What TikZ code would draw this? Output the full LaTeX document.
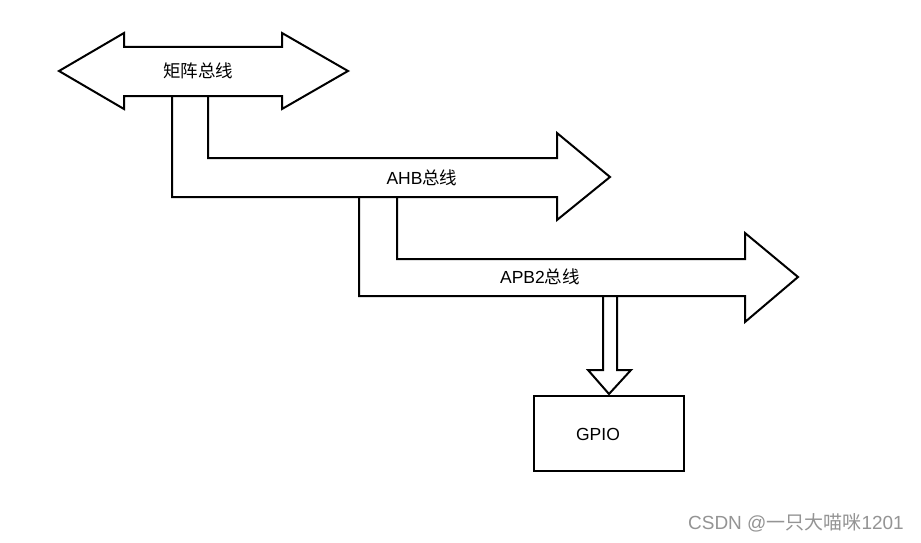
\documentclass[tikz,border=0pt]{standalone}
\usepackage{fontspec}
\setmainfont{Liberation Sans}
\newfontfamily\cjk{Noto Sans CJK SC}
\begin{document}
\begin{tikzpicture}[x=1pt,y=-1pt,
  bus/.style={draw=black,line width=2pt,line join=miter},
  lbl/.style={font=\fontsize{17.5}{19}\selectfont,inner sep=0pt,anchor=center},
  wm/.style={font=\fontsize{19}{21}\selectfont,text=black!42,inner sep=0pt,anchor=east}]
\useasboundingbox[fill=white] (0,0) rectangle (921,543);
% matrix bus (double arrow)
\draw[bus] (59,71) -- (124,33) -- (124,47) -- (282,47) -- (282,33) -- (348,71)
  -- (282,109) -- (282,96) -- (124,96) -- (124,109) -- cycle;
% AHB bus
\draw[bus] (208,96) -- (208,158) -- (557,158) -- (557,133) -- (610,177)
  -- (557,220) -- (557,197) -- (172,197) -- (172,96);
% APB2 bus
\draw[bus] (397,197) -- (397,259) -- (745,259) -- (745,233) -- (798,277)
  -- (745,322) -- (745,296) -- (359,296) -- (359,197);
% arrow to GPIO
\draw[bus] (603,296) -- (603,370) -- (588,370) -- (609,394) -- (631,370)
  -- (617,370) -- (617,296);
% GPIO box
\node[draw=black,line width=2pt,minimum width=150pt,minimum height=75pt,inner sep=0pt]
  (gpio) at (609,433.5) {};
\node[lbl] (gpiot) at (598,434) {GPIO};
% labels
\node[lbl] (mat) at (198,71) {{\cjk 矩阵总线}};
\node[lbl] (ahb) at (422,178) {AHB{\cjk 总线}};
\node[lbl] (apb) at (540,277) {APB2{\cjk 总线}};
% watermark
\node[wm] (wmk) at (904,523) {CSDN @{\cjk 一只大喵咪}1201};
\end{tikzpicture}
\end{document}
